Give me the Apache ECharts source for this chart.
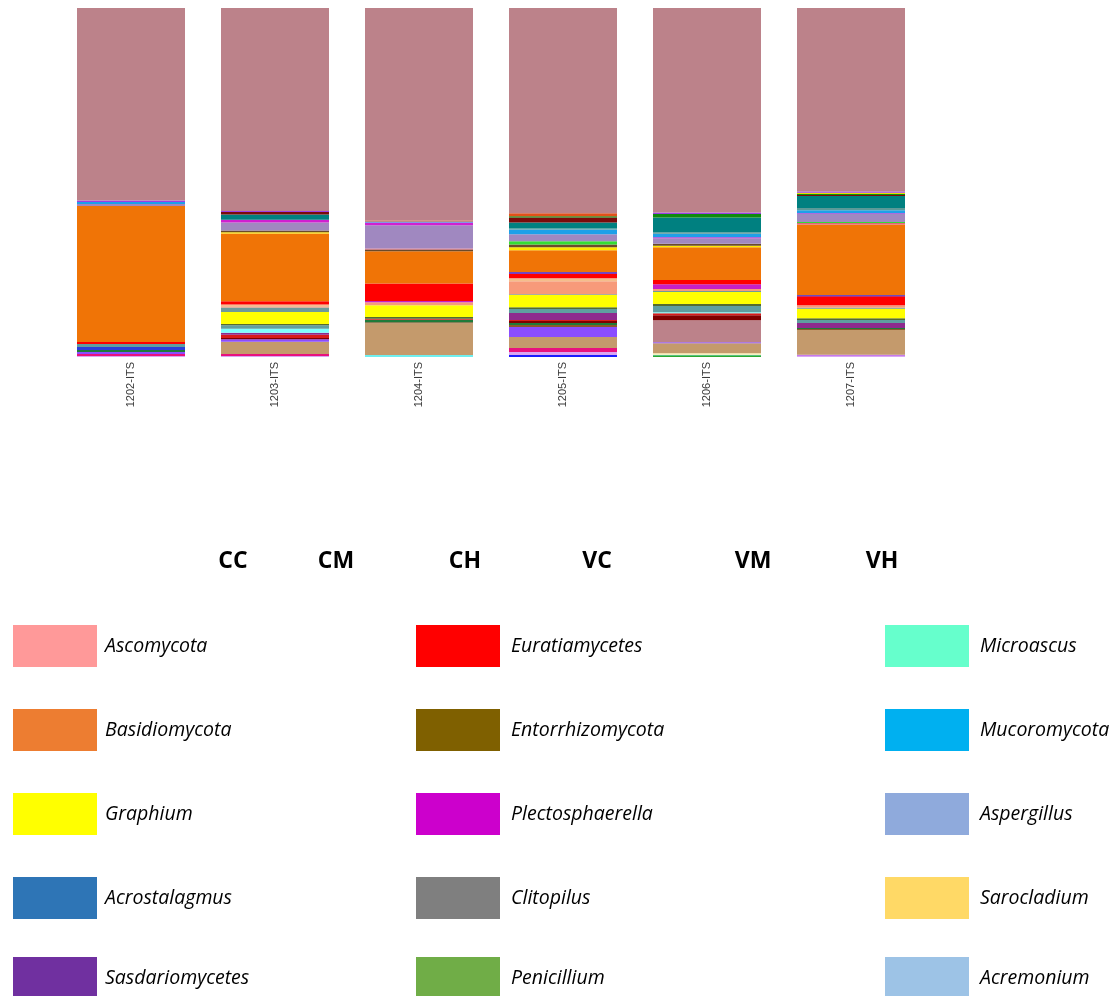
<!DOCTYPE html>
<html>
<head>
<meta charset="utf-8">
<title>ITS community composition</title>
<script src="https://cdn.jsdelivr.net/npm/echarts@6/dist/echarts.min.js"></script>
<style>
  html, body { margin: 0; padding: 0; background: #ffffff; }
  #chart { width: 1117px; height: 996px; }
</style>
</head>
<body>
<div id="chart"></div>
<script>
// Sample identifiers along the x axis
const samples = ['1202-ITS', '1203-ITS', '1204-ITS', '1205-ITS', '1206-ITS', '1207-ITS'];

// Treatment groups printed under the samples
const groupLabels = ['CC', 'CM', 'CH', 'VC', 'VM', 'VH'];

// Taxa in stacking order, bottom to top
const taxa = [
  'Microascaceae', 'Chaetomium', 'Mortierella', 'Fusarium', 'Cladosporium', 'Preussia',
  'Conocybe', 'Pyrenochaeta', 'Coprinellus', 'Humicola', 'Stachybotrys', 'Sordaria',
  'Tricharina', 'Ascobolus', 'Pseudeurotium', 'Trichoderma', 'Scedosporium', 'Thermomyces',
  'Acrostalagmus', 'Alternaria', 'Graphium', 'Clitopilus', 'Ascomycota', 'Sarocladium',
  'Plectosphaerella', 'Euratiamycetes', 'Mucor', 'Basidiomycota', 'Botryotrichum', 'Entorrhizomycota',
  'Pseudallescheria', 'Penicillium', 'Aspergillus', 'Cephalotrichum', 'Mucoromycota', 'Acremonium',
  'Sasdariomycetes', 'Neocosmospora', 'Talaromyces', 'Lecanicillium', 'Candida', 'Podospora',
  'Others'
];

// Relative abundance (%) of each taxon, one list per sample, same order as taxa
const ab1202 = [0, 0, 0, 0.29, 0, 0, 0, 0.57, 0, 0.57, 0, 0.57, 0, 0, 0, 0, 0.86, 0, 0.86, 0, 0, 0, 0, 0, 0, 0.57, 0, 38.97, 0, 0, 0, 0, 0.57, 0, 0.57, 0, 0, 0, 0, 0, 0, 0.43, 55.17];
const ab1203 = [0, 0, 0, 0.29, 0, 0, 0, 0.57, 3.52, 0.69, 0, 0, 0, 0.37, 0.95, 0.57, 0, 1.15, 0.97, 0.37, 3.44, 1.26, 0.37, 0.49, 0, 0.95, 0, 19.40, 0.37, 0.49, 0, 0, 2.30, 0.80, 0, 0, 1.50, 0.72, 0, 0, 0, 0.29, 58.17];
const ab1204 = [0.57, 0, 0, 0, 0, 0, 0, 0, 9.08, 0, 0.29, 0.74, 0, 0, 0.29, 0, 0, 0, 0, 0.49, 3.35, 0, 0.86, 0, 0.37, 4.99, 0, 9.26, 0, 0.49, 0.29, 0, 6.68, 0.77, 0.29, 0, 0, 0, 0, 0.29, 0, 0, 60.90];
const ab1205 = [0, 0, 0.57, 0.86, 0, 0, 0, 1.15, 3.15, 2.87, 0.57, 0.57, 0, 0.57, 0.29, 2.01, 0, 0, 1.15, 0.49, 3.52, 0.20, 3.72, 0.86, 0, 1.35, 0.37, 6.30, 0.86, 0.77, 0, 0.95, 2.01, 0, 1.35, 0.29, 1.72, 1.43, 0.37, 0.86, 0, 0, 58.82];
const ab1206 = [0, 0.49, 0, 0, 0.17, 0.40, 0, 0, 2.87, 0.29, 0, 0, 6.30, 1.43, 0.57, 0, 0, 0.29, 1.81, 0.57, 3.44, 0.29, 0.57, 0, 1.35, 1.23, 0, 9.37, 0.46, 0.57, 0, 0, 1.52, 0.34, 0.95, 0.49, 4.20, 0, 1.03, 0, 0, 0.37, 58.63];
const ab1207 = [0, 0, 0, 0.37, 0, 0, 0.29, 0, 7.08, 0, 0.29, 0.29, 0, 0, 0, 1.43, 0, 0, 0.86, 0.49, 2.75, 0.29, 0.66, 0, 0, 2.58, 0.29, 20.26, 0, 0, 0.49, 0.29, 2.29, 0.20, 0.86, 0.66, 3.40, 0.29, 0.29, 0, 0.37, 0.37, 52.56];

// Fill colour of each taxon in the bars
const taxonColors = [
  '#6FEFEF', '#2EA82E', '#1A1AFF', '#D9A6F2', '#3CC8E6', '#FFF2B3',
  '#B455E6', '#E8127E', '#C49A6C', '#8B4DFF', '#8B5A2B', '#1F7A3A',
  '#BC828A', '#7F0000', '#D81B1B', '#8E2A8E', '#2B3FD9', '#7FFFFF',
  '#5F9EA0', '#556B2F', '#FFFF00', '#6E9A9A', '#F79A7A', '#F4BE8C',
  '#C71FC7', '#FF0000', '#0000FF', '#F07406', '#FFE600', '#6B4A2A',
  '#E0607A', '#33DD33', '#A088C0', '#D020D0', '#1EA0E8', '#5A9A98',
  '#008080', '#7A0A0A', '#0E8A0E', '#E2511A', '#E8E000', '#9B3FE6',
  '#BC828A'
];

// Key shown beneath the chart (three columns, five rows)
const legendNames = [
  'Ascomycota', 'Basidiomycota', 'Graphium', 'Acrostalagmus', 'Sasdariomycetes',
  'Euratiamycetes', 'Entorrhizomycota', 'Plectosphaerella', 'Clitopilus', 'Penicillium',
  'Microascus', 'Mucoromycota', 'Aspergillus', 'Sarocladium', 'Acremonium'
];
const legendColors = [
  '#FF9999', '#ED7D31', '#FFFF00', '#2E75B6', '#7030A0',
  '#FF0000', '#7F6000', '#CC00CC', '#7F7F7F', '#70AD47',
  '#66FFCC', '#00B0F0', '#8FAADC', '#FFD966', '#9DC3E6'
];

const sampleTables = [ab1202, ab1203, ab1204, ab1205, ab1206, ab1207];

const series = taxa.map((name, i) => ({
  name: name,
  type: 'bar',
  stack: 'total',
  barWidth: 108,
  itemStyle: { color: taxonColors[i] },
  emphasis: { disabled: true },
  data: sampleTables.map(t => t[i])
}));

// Group labels and key drawn as graphic elements
const graphics = [];
const groupX = [233, 336, 465, 597, 753, 882];
groupLabels.forEach((g, i) => {
  graphics.push({
    type: 'text', x: groupX[i], y: 561, silent: true,
    style: {
      text: g, textAlign: 'center', textVerticalAlign: 'middle',
      font: 'bold 23px "Open Sans", sans-serif', fill: '#000000'
    }
  });
});
const colSwatchX = [13, 416, 885];
const colTextX = [105, 511, 980];
const rowTop = [625, 709, 793, 877, 957];
legendNames.forEach((name, i) => {
  const col = Math.floor(i / 5), row = i % 5;
  const sx = colSwatchX[col], sy = rowTop[row];
  graphics.push({
    type: 'rect', shape: { x: sx, y: sy, width: 84, height: 42 },
    style: { fill: legendColors[i] }, silent: true
  });
  graphics.push({
    type: 'text', x: colTextX[col], y: sy + 21, silent: true,
    style: {
      text: name, textVerticalAlign: 'middle',
      font: 'italic 19.5px "Open Sans", sans-serif', fill: '#000000'
    }
  });
});

const chart = echarts.init(document.getElementById('chart'), null, { renderer: 'canvas' });
chart.setOption({
  animation: false,
  backgroundColor: '#ffffff',
  grid: { left: 59, right: 194, top: 8, bottom: 639, containLabel: false },
  xAxis: {
    type: 'category',
    data: samples,
    axisLine: { show: false },
    axisTick: { show: false },
    axisLabel: {
      rotate: 90, margin: 5, color: '#3a3a3a', fontSize: 11,
      fontFamily: '"Liberation Sans Narrow", "Liberation Sans", sans-serif'
    }
  },
  yAxis: { type: 'value', min: 0, max: 100, show: false },
  series: series,
  graphic: graphics
});
</script>
</body>
</html>
